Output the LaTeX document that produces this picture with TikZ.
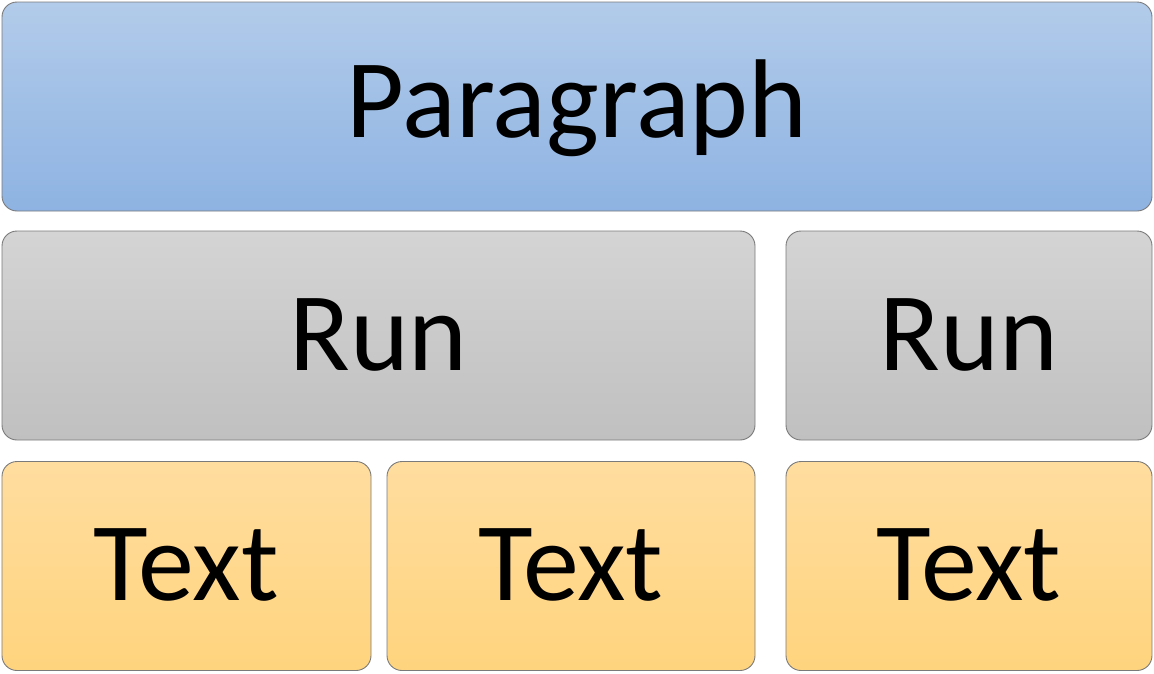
\documentclass[tikz,border=0pt]{standalone}
\usepackage{fontspec}
\setmainfont{Carlito}
\definecolor{bluetop}{HTML}{B2CBEA}
\definecolor{bluebot}{HTML}{8EB3E2}
\definecolor{graytop}{HTML}{D4D4D4}
\definecolor{graybot}{HTML}{C0C0C0}
\definecolor{orgtop}{HTML}{FFDD9F}
\definecolor{orgbot}{HTML}{FFD47E}
\definecolor{edge}{HTML}{7A7A7A}
\tikzset{
  box/.style={draw=edge, line width=0.9pt, rounded corners=15pt, inner sep=0pt, minimum height=209pt},
  parabox/.style={box, top color=bluetop, bottom color=bluebot},
  runbox/.style={box, top color=graytop, bottom color=graybot},
  textbox/.style={box, top color=orgtop, bottom color=orgbot},
  lbl/.style={anchor=base, inner sep=0pt, font=\fontsize{112}{134}\selectfont, text=black}
}
\begin{document}
\begin{tikzpicture}[x=1pt,y=1pt]
\useasboundingbox (0,0) rectangle (1154,-673);
\node[parabox, minimum width=1150pt] (para) at (577,-106.5) {};
\node[runbox, minimum width=753pt] (run1) at (378.5,-335.5) {};
\node[runbox, minimum width=366pt] (run2) at (969,-335.5) {};
\node[textbox, minimum width=369pt] (t1) at (186.5,-566) {};
\node[textbox, minimum width=368pt] (t2) at (571,-566) {};
\node[textbox, minimum width=366pt] (t3) at (969,-566) {};
\node[lbl] (paral) at ([yshift=-30.5pt]para.center) {Paragraph};
\node[lbl] (run1l) at ([yshift=-34.5pt]run1.center) {Run};
\node[lbl] (run2l) at ([yshift=-34.5pt]run2.center) {Run};
\node[lbl] (t1l) at ([yshift=-34pt]t1.center) {Text};
\node[lbl] (t2l) at ([yshift=-34pt]t2.center) {Text};
\node[lbl] (t3l) at ([yshift=-34pt]t3.center) {Text};
\end{tikzpicture}
\end{document}
